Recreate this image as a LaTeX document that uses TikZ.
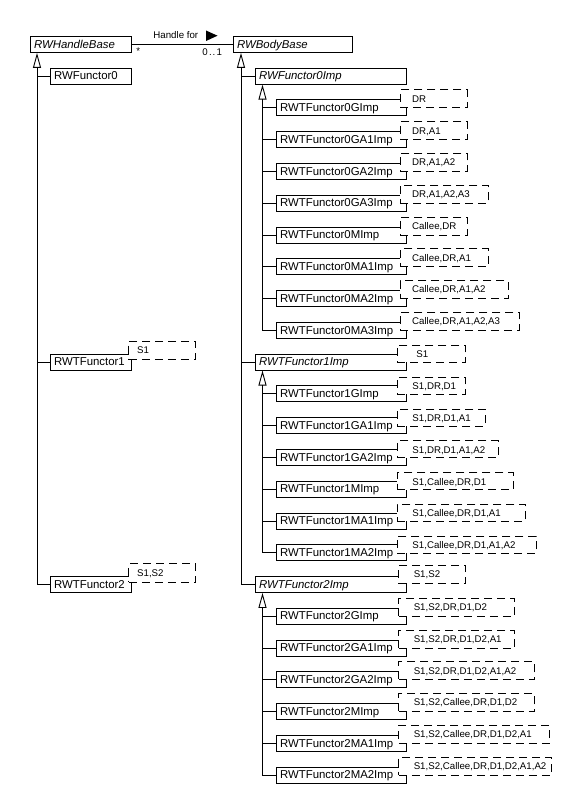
\documentclass[tikz,border=0pt]{standalone}
\usepackage{fontspec}
\setmainfont{Liberation Sans}
\usetikzlibrary{arrows.meta}
\newcommand\clsfont{\fontsize{11.4pt}{13pt}\selectfont}
\newcommand\tplfont{\fontsize{9.7pt}{11pt}\selectfont}
% #1 name, #2 left x, #3 right x, #4 top y, #5 bottom y, #6 text x, #7 text
\newcommand\mktpl[7]{%
  \pgfmathsetmacro\tplw{#3-#2}\pgfmathsetmacro\tplh{#5-#4}%
  \node[tplbox, minimum width=\tplw pt, minimum height=\tplh pt] (#1) at (#2,#4) {};
  \node[tpltext] (#1t) at (#6,{#4+12.8}) {#7};}
\begin{document}
\begin{tikzpicture}[x=1pt,y=-1pt,line width=0.9pt,
  cls/.style={draw, fill=white, anchor=north west, inner xsep=3.6pt, inner ysep=0pt,
    minimum height=16pt, text width=#1, align=left, font=\clsfont,
    text height=9.2pt, text depth=1.8pt},
  abstractcls/.style={font=\clsfont\itshape},
  tplbox/.style={draw, dash pattern=on 8pt off 5pt, fill=white, anchor=north west, inner sep=0pt},
  tpltext/.style={anchor=base west, inner sep=0pt, font=\tplfont},
  inh/.style={-{Triangle[open,length=15pt,width=8pt]}},
  lbl/.style={anchor=base west, inner sep=0pt, font=\tplfont}]
\path[use as bounding box, fill=white] (0,0) rectangle (573,789);

% left column
\node[cls=93.8pt, abstractcls] (hb) at (30,36) {RWHandleBase};
\node[cls=73.8pt] (f0) at (50,67.7) {RWFunctor0};
\node[cls=73.8pt] (f1) at (50,353.6) {RWTFunctor1};
\node[cls=73.8pt] (f2) at (50,576) {RWTFunctor2};

% right column
\node[cls=111.8pt, abstractcls] (bb) at (233,36) {RWBodyBase};
\node[cls=143.8pt, abstractcls] (i0) at (255,67.7) {RWFunctor0Imp};
\node[cls=143.8pt, abstractcls] (i1) at (255,353.6) {RWTFunctor1Imp};
\node[cls=143.8pt, abstractcls] (i2) at (255,576) {RWTFunctor2Imp};

\node[cls=122.8pt] (c0a) at (276,99.5) {RWTFunctor0GImp};
\node[cls=122.8pt] (c0b) at (276,131.2) {RWTFunctor0GA1Imp};
\node[cls=122.8pt] (c0c) at (276,163) {RWTFunctor0GA2Imp};
\node[cls=122.8pt] (c0d) at (276,194.8) {RWTFunctor0GA3Imp};
\node[cls=122.8pt] (c0e) at (276,226.5) {RWTFunctor0MImp};
\node[cls=122.8pt] (c0f) at (276,258.3) {RWTFunctor0MA1Imp};
\node[cls=122.8pt] (c0g) at (276,290.1) {RWTFunctor0MA2Imp};
\node[cls=122.8pt] (c0h) at (276,321.9) {RWTFunctor0MA3Imp};

\node[cls=122.8pt] (c1a) at (276,385.4) {RWTFunctor1GImp};
\node[cls=122.8pt] (c1b) at (276,417.2) {RWTFunctor1GA1Imp};
\node[cls=122.8pt] (c1c) at (276,448.9) {RWTFunctor1GA2Imp};
\node[cls=122.8pt] (c1d) at (276,480.7) {RWTFunctor1MImp};
\node[cls=122.8pt] (c1e) at (276,512.5) {RWTFunctor1MA1Imp};
\node[cls=122.8pt] (c1f) at (276,544.3) {RWTFunctor1MA2Imp};

\node[cls=122.8pt] (c2a) at (276,607.8) {RWTFunctor2GImp};
\node[cls=122.8pt] (c2b) at (276,639.6) {RWTFunctor2GA1Imp};
\node[cls=122.8pt] (c2c) at (276,671.3) {RWTFunctor2GA2Imp};
\node[cls=122.8pt] (c2d) at (276,703.1) {RWTFunctor2MImp};
\node[cls=122.8pt] (c2e) at (276,734.9) {RWTFunctor2MA1Imp};
\node[cls=122.8pt] (c2f) at (276,766.6) {RWTFunctor2MA2Imp};

% association
\draw (hb.east) -- (bb.west);
\node[lbl] (hf) at (153,39) {Handle for};
\fill (206,30.5) -- (217.5,35.7) -- (206,41) -- cycle;
\node[lbl] (mstar) at (136,55) {*};
\node[lbl] (mult) at (202,55.5) {0\kern1.2pt.\kern1pt.\kern1.2pt1};

% inheritance: left column
\coordinate (hbA) at ([xshift=7pt]hb.south west);
\draw[inh] (f2.west) -| (hbA);
\draw (hbA |- f0.west) -- (f0.west);
\draw (hbA |- f1.west) -- (f1.west);

% inheritance: right column
\coordinate (bbA) at ([xshift=8pt]bb.south west);
\draw[inh] (i2.west) -| (bbA);
\draw (bbA |- i0.west) -- (i0.west);
\draw (bbA |- i1.west) -- (i1.west);

\coordinate (i0A) at ([xshift=7.5pt]i0.south west);
\draw[inh] (c0h.west) -| (i0A);
\foreach \c in {c0a,c0b,c0c,c0d,c0e,c0f,c0g}{\draw (i0A |- \c.west) -- (\c.west);}

\coordinate (i1A) at ([xshift=7.5pt]i1.south west);
\draw[inh] (c1f.west) -| (i1A);
\foreach \c in {c1a,c1b,c1c,c1d,c1e}{\draw (i1A |- \c.west) -- (\c.west);}

\coordinate (i2A) at ([xshift=7.5pt]i2.south west);
\draw[inh] (c2f.west) -| (i2A);
\foreach \c in {c2a,c2b,c2c,c2d,c2e}{\draw (i2A |- \c.west) -- (\c.west);}

% template parameter boxes
\mktpl{tl1}{128.3}{195}{340.5}{358.5}{136.7}{S1}
\mktpl{tl2}{128.3}{195}{563.3}{581.7}{136.7}{S1,S2}

\mktpl{t0a}{400}{467}{89.5}{107.5}{411.7}{DR}
\mktpl{t0b}{400}{467}{121.2}{139.2}{411.7}{DR,A1}
\mktpl{t0c}{400}{467}{153}{171}{411.7}{DR,A1,A2}
\mktpl{t0d}{400}{488}{184.8}{202.8}{411.7}{DR,A1,A2,A3}
\mktpl{t0e}{400}{467}{216.5}{234.5}{411.7}{Callee,DR}
\mktpl{t0f}{400}{488}{248.3}{266.3}{411.7}{Callee,DR,A1}
\mktpl{t0g}{400}{508}{280.1}{298.1}{411.7}{Callee,DR,A1,A2}
\mktpl{t0h}{400}{519}{311.9}{329.9}{411.7}{Callee,DR,A1,A2,A3}

\mktpl{t1}{397}{465}{345}{362}{416}{S1}
\mktpl{t1a}{397}{465}{376.9}{393.9}{412}{S1,DR,D1}
\mktpl{t1b}{397}{485}{408.7}{425.7}{412}{S1,DR,D1,A1}
\mktpl{t1c}{397}{498}{440.4}{457.4}{412}{S1,DR,D1,A1,A2}
\mktpl{t1d}{397}{513}{472.2}{489.2}{412}{S1,Callee,DR,D1}
\mktpl{t1e}{397}{525}{504}{521}{412}{S1,Callee,DR,D1,A1}
\mktpl{t1f}{397}{536}{535.8}{552.8}{412}{S1,Callee,DR,D1,A1,A2}

\mktpl{t2}{398.3}{465}{565}{583}{413.3}{S1,S2}
\mktpl{t2a}{398.3}{514}{597.8}{615.8}{413.3}{S1,S2,DR,D1,D2}
\mktpl{t2b}{398.3}{514}{629.6}{647.6}{413.3}{S1,S2,DR,D1,D2,A1}
\mktpl{t2c}{398.3}{534}{661.3}{679.3}{413.3}{S1,S2,DR,D1,D2,A1,A2}
\mktpl{t2d}{398.3}{534}{693.1}{711.1}{413.3}{S1,S2,Callee,DR,D1,D2}
\mktpl{t2e}{398.3}{549}{724.9}{742.9}{413.3}{S1,S2,Callee,DR,D1,D2,A1}
\mktpl{t2f}{398.3}{551}{756.6}{774.6}{413.3}{S1,S2,Callee,DR,D1,D2,A1,A2}
\end{tikzpicture}
\end{document}
